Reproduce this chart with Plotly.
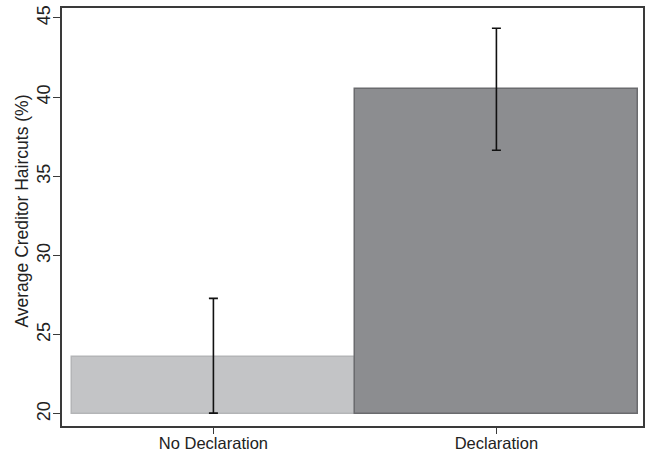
import plotly.graph_objects as go

categories = ["No Declaration", "Declaration"]
means = [23.6, 40.5]
ci_upper = [27.3, 44.35]
ci_lower = [20.05, 36.65]
baseline = 20
fill_colors = ["#c3c4c6", "#8c8d90"]
line_colors = ["#b4b5b7", "#6a6b6e"]
y_title = "Average Creditor Haircuts (%)"

xs = list(range(len(categories)))

fig = go.Figure()
fig.add_trace(go.Bar(
    x=xs, y=[m - baseline for m in means], base=baseline,
    width=1.0,
    marker=dict(color=fill_colors, line=dict(color=line_colors, width=1.5)),
    showlegend=False, hoverinfo="skip",
))
fig.add_trace(go.Scatter(
    x=xs, y=means, mode="markers",
    marker=dict(size=1, opacity=0),
    error_y=dict(type="data", symmetric=False,
                 array=[u - m for u, m in zip(ci_upper, means)],
                 arrayminus=[m - l for m, l in zip(means, ci_lower)],
                 color="#111111", thickness=1.6, width=4.5),
    showlegend=False, hoverinfo="skip",
))

fig.update_layout(
    width=645, height=453,
    margin=dict(l=62, r=2, t=8, b=27),
    paper_bgcolor="white", plot_bgcolor="white",
    font=dict(family="Liberation Sans, Arial, sans-serif", size=16, color="#222222"),
    bargap=0,
)
fig.update_xaxes(
    range=[-0.535, 1.518], automargin=False,
    tickmode="array", tickvals=xs, ticktext=categories,
    tickfont=dict(size=16.5), ticklabelstandoff=-5,
    showgrid=False, zeroline=False,
    showline=True, linecolor="#3a3a3a", linewidth=1.5, mirror=True,
    ticks="outside", ticklen=6, tickcolor="#3a3a3a", tickwidth=1,
)
fig.update_yaxes(
    range=[19.24, 45.63], automargin=False,
    tickvals=[20, 25, 30, 35, 40, 45], tickangle=-90,
    tickfont=dict(size=18), ticklabelstandoff=-4,
    showgrid=False, zeroline=False,
    showline=True, linecolor="#3a3a3a", linewidth=1.5, mirror=True,
    ticks="outside", ticklen=7, tickcolor="#3a3a3a", tickwidth=1,
)
fig.add_annotation(
    text=y_title, xref="paper", yref="paper",
    x=-0.0688, y=0.513, xanchor="center", yanchor="middle",
    textangle=-90, showarrow=False, font=dict(size=17.5, color="#222222"),
)

fig.write_html("out.html", config={"displayModeBar": False},
               post_script="document.body.style.margin='0';")
